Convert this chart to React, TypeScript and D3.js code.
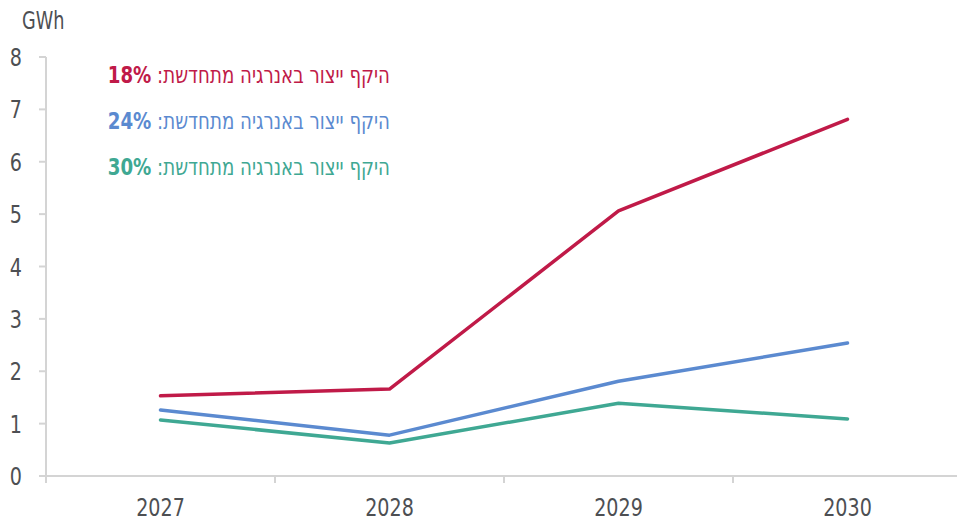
import React from "react";
import * as d3 from "d3";

const years = ["2027", "2028", "2029", "2030"];
const series18 = [1.53, 1.66, 5.06, 6.81];
const series24 = [1.26, 0.78, 1.81, 2.54];
const series30 = [1.07, 0.63, 1.39, 1.09];
const yTicks = [0, 1, 2, 3, 4, 5, 6, 7, 8];
const legendLabels = ["18%", "24%", "30%"];
const legendPrefix = "היקף ייצור באנרגיה מתחדשת: ";
const unitLabel = "GWh";

const colors = ["#C01A48", "#5B8AD0", "#3FA893"];
const FONT = "'DejaVu Sans Condensed', 'DejaVu Sans', sans-serif";

export default function App() {
  const W = 957, H = 521;
  const left = 46, right = 962, top = 57, bottom = 476;
  const x = d3.scaleBand().domain(years).range([left, right]);
  const y = d3.scaleLinear().domain([0, 8]).range([bottom, top]);
  const line = d3
    .line<number>()
    .x((_, i) => (x(years[i]) as number) + x.bandwidth() / 2)
    .y((d) => y(d));
  const all = [series18, series24, series30];
  const axisColor = "#d4d4d4";
  const textColor = "#4d4f53";
  const xTickPos = [...years.map((c) => x(c) as number), right];
  return (
    <svg width={W} height={H} style={{ position: "absolute", left: 0, top: 0, background: "#fff" }} fontFamily={FONT}>
      <text x={0} y={0} fontSize={24} fill={textColor} transform="translate(22,29) scale(0.82,1)">{unitLabel}</text>
      {/* y axis */}
      <line x1={left} x2={left} y1={y(8)} y2={bottom + 7} stroke={axisColor} strokeWidth={2} />
      {yTicks.map((t) => (
        <g key={t}>
          <line x1={left - 7} x2={left} y1={y(t)} y2={y(t)} stroke={axisColor} strokeWidth={2} />
          <text x={0} y={0} dy="0.36em" textAnchor="end" fontSize={25} fill={textColor}
            transform={`translate(22,${y(t)}) scale(0.85,1)`}>{t}</text>
        </g>
      ))}
      {/* x axis */}
      <line x1={left} x2={W} y1={bottom} y2={bottom} stroke={axisColor} strokeWidth={2} />
      {xTickPos.map((p, i) => (
        <line key={i} x1={p} x2={p} y1={bottom} y2={bottom + 7} stroke={axisColor} strokeWidth={2} />
      ))}
      {years.map((c) => (
        <text key={c} x={0} y={0} textAnchor="middle" fontSize={25} fill={textColor}
          transform={`translate(${(x(c) as number) + x.bandwidth() / 2},516) scale(0.85,1)`}>{c}</text>
      ))}
      {all.map((s, i) => (
        <path key={i} d={line(s) || ""} fill="none" stroke={colors[i]} strokeWidth={3.5} strokeLinecap="round" strokeLinejoin="round" />
      ))}
      {legendLabels.map((l, i) => (
        <text key={l} x={0} y={0} direction="rtl" textAnchor="start" fontSize={23} fill={colors[i]}
          transform={`translate(390,${83 + i * 46}) scale(0.88,1)`}>
          {legendPrefix}
          <tspan fontWeight="bold">{l}</tspan>
        </text>
      ))}
    </svg>
  );
}
